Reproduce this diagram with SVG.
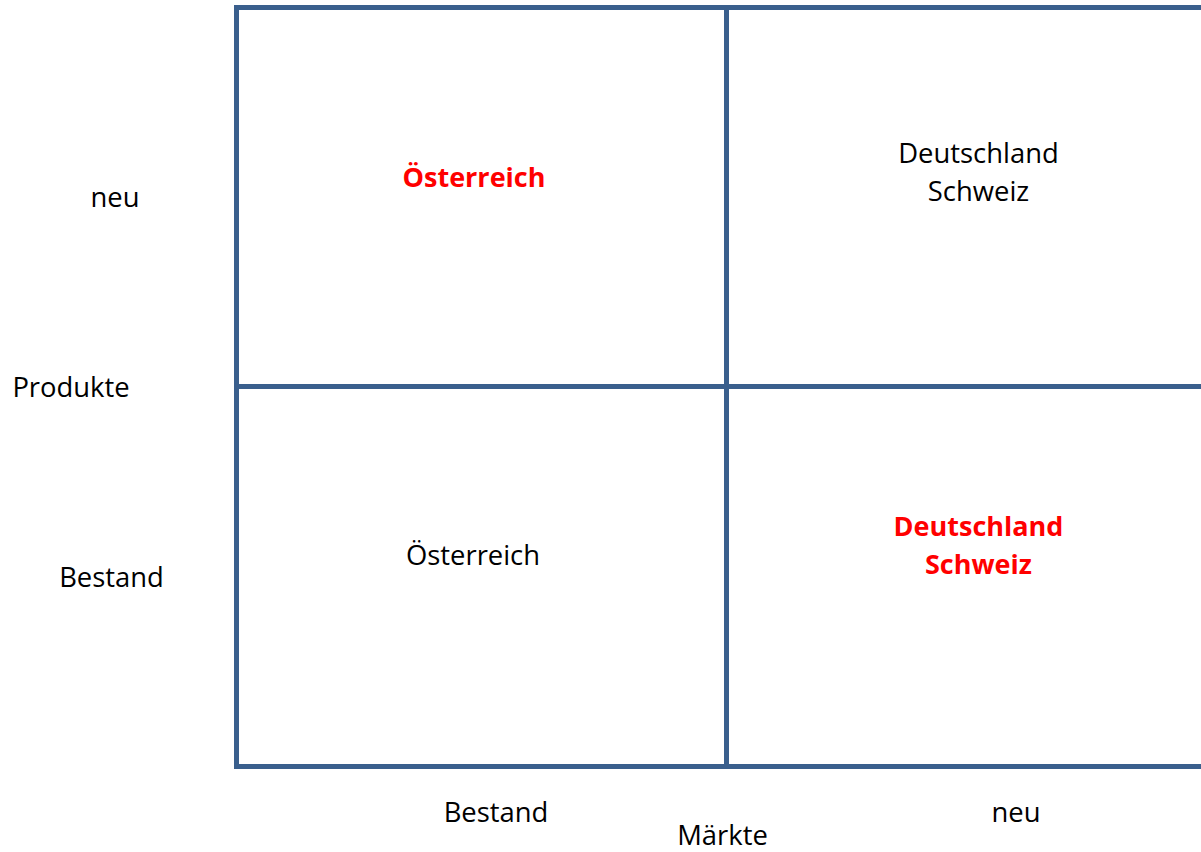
<svg xmlns="http://www.w3.org/2000/svg" width="1201" height="852" viewBox="0 0 1201 852">
<style>
.t{font-family:"Open Sans","Liberation Sans",sans-serif;font-size:27.4px;fill:#000;text-anchor:middle}
.r{fill:#ff0000;font-weight:bold;font-size:27px}
.ln{stroke:#3a5f8d;stroke-width:5;fill:none;stroke-linecap:square}
</style>
<rect width="1201" height="852" fill="#fff"/>
<g id="connectors">
<path class="ln" d="M1210,7.5 H236.5 V766.5 H1210"/>
<path class="ln" d="M236.5,386.5 H1210"/>
<path class="ln" d="M726.5,7.5 V766.5"/>
</g>
<g id="axis-produkte">
<text class="t" x="115" y="207">neu</text>
<text class="t" x="71" y="397">Produkte</text>
<text class="t" x="111.5" y="587">Bestand</text>
</g>
<g id="axis-maerkte">
<text class="t" x="496" y="822">Bestand</text>
<text class="t" x="1016" y="822">neu</text>
<text class="t" x="722.5" y="845">Märkte</text>
</g>
<g id="cell-top-left">
<text class="t r" x="474" y="187">Österreich</text>
</g>
<g id="cell-top-right">
<text class="t" x="978.5" y="163">Deutschland</text>
<text class="t" x="978.5" y="201">Schweiz</text>
</g>
<g id="cell-bottom-left">
<text class="t" x="473" y="565">Österreich</text>
</g>
<g id="cell-bottom-right">
<text class="t r" x="978.5" y="536">Deutschland</text>
<text class="t r" x="978.5" y="574">Schweiz</text>
</g>
</svg>
